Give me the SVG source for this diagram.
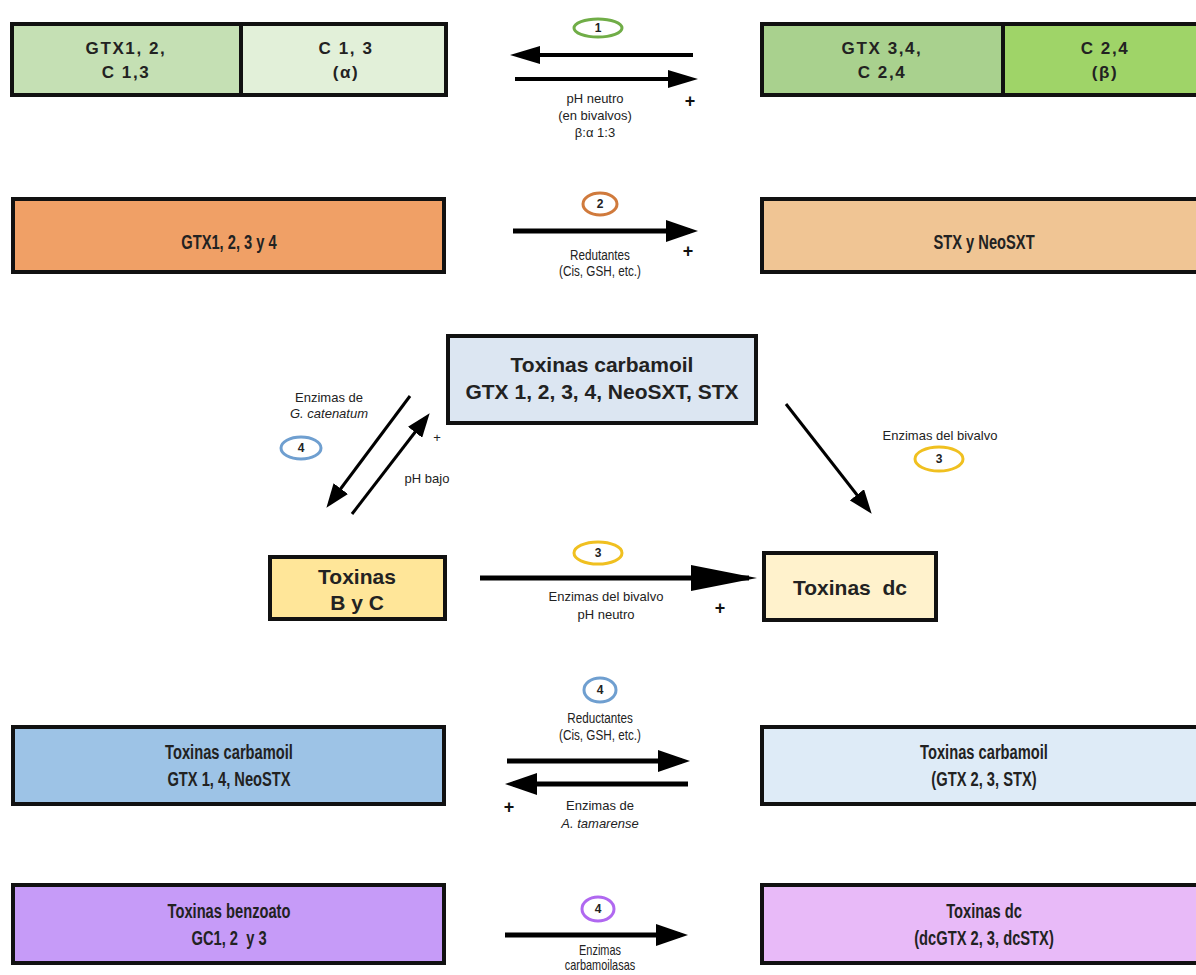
<svg xmlns="http://www.w3.org/2000/svg" width="1196" height="975" viewBox="0 0 1196 975">
<defs>
<style>
.box{stroke:#111;stroke-width:4}
.t{font-family:"Liberation Sans",Arial,sans-serif;font-weight:bold;fill:#222;text-anchor:middle;dominant-baseline:central}
.t1{font-size:17px;letter-spacing:1.6px}
.t3{font-size:21px}
.tn{font-family:"Liberation Sans",Arial,sans-serif;font-weight:bold;font-size:21px;fill:#222;text-anchor:middle;dominant-baseline:central}
.s{font-family:"Liberation Sans",Arial,sans-serif;font-size:13px;fill:#222;text-anchor:middle;dominant-baseline:central}
.sn{font-family:"Liberation Sans",Arial,sans-serif;font-size:15px;fill:#222;text-anchor:middle;dominant-baseline:central}
.sn2{font-family:"Liberation Sans",Arial,sans-serif;font-size:14px;fill:#222;text-anchor:middle;dominant-baseline:central}
.plus{font-family:"Liberation Sans",Arial,sans-serif;font-weight:bold;font-size:18px;fill:#111;text-anchor:middle;dominant-baseline:central}
.ell{fill:#fff;stroke-width:3}
.en{font-family:"Liberation Sans",Arial,sans-serif;font-weight:bold;font-size:12px;fill:#222;text-anchor:middle;dominant-baseline:central}
.arr{stroke:#000;fill:none}
</style>
<marker id="ahM" viewBox="0 0 30 18" refX="22" refY="9" markerWidth="30" markerHeight="18" markerUnits="userSpaceOnUse" orient="auto"><path d="M0,0 L30,9 L0,18 z" fill="#000"/></marker>
<marker id="ahB" viewBox="0 0 32 22" refX="24" refY="11" markerWidth="32" markerHeight="22" markerUnits="userSpaceOnUse" orient="auto"><path d="M0,0 L32,11 L0,22 z" fill="#000"/></marker>
<marker id="ahL" viewBox="0 0 66 26" refX="58" refY="13" markerWidth="66" markerHeight="26" markerUnits="userSpaceOnUse" orient="auto"><path d="M0,0 L66,13 L0,26 z" fill="#000"/></marker>
<marker id="ahS" viewBox="0 0 24 18" refX="18" refY="9" markerWidth="24" markerHeight="18" markerUnits="userSpaceOnUse" orient="auto"><path d="M0,0 L24,9 L0,18 z" fill="#000"/></marker>
</defs>
<rect width="1196" height="975" fill="#fff"/>

<g id="connectors">
<line class="arr" x1="693" y1="55" x2="518" y2="55" stroke-width="4" marker-end="url(#ahM)"/>
<line class="arr" x1="515" y1="79" x2="690" y2="79" stroke-width="4" marker-end="url(#ahM)"/>
<line class="arr" x1="513" y1="231" x2="690" y2="231" stroke-width="5" marker-end="url(#ahB)"/>
<line class="arr" x1="410" y1="396" x2="330" y2="503" stroke-width="3" marker-end="url(#ahS)"/>
<line class="arr" x1="352" y1="514" x2="426" y2="418" stroke-width="3" marker-end="url(#ahS)"/>
<line class="arr" x1="786" y1="404" x2="868" y2="509" stroke-width="3" marker-end="url(#ahS)"/>
<line class="arr" x1="480" y1="578" x2="749" y2="578" stroke-width="5" marker-end="url(#ahL)"/>
<line class="arr" x1="507" y1="761" x2="682" y2="761" stroke-width="5" marker-end="url(#ahB)"/>
<line class="arr" x1="688" y1="784" x2="513" y2="784" stroke-width="5" marker-end="url(#ahB)"/>
<line class="arr" x1="505" y1="935" x2="680" y2="935" stroke-width="5" marker-end="url(#ahB)"/>
</g>

<g id="node-gtx12-c13">
<rect class="box" x="12" y="24" width="229" height="71" fill="#c5e0b4"/>
<text class="t t1" x="126" y="48">GTX1, 2,</text>
<text class="t t1" x="126" y="72">C 1,3</text>
</g>
<g id="node-c13-alpha">
<rect class="box" x="241" y="24" width="205" height="71" fill="#e2f0d9"/>
<text class="t t1" x="346" y="48">C 1, 3</text>
<text class="t t1" x="346" y="72">(α)</text>
</g>
<g id="node-gtx34-c24">
<rect class="box" x="762" y="24" width="241" height="71" fill="#a9d18e"/>
<text class="t t1" x="882" y="48">GTX 3,4,</text>
<text class="t t1" x="882" y="72">C 2,4</text>
</g>
<g id="node-c24-beta">
<rect class="box" x="1003" y="24" width="200" height="71" fill="#9fd468"/>
<text class="t t1" x="1105" y="48">C 2,4</text>
<text class="t t1" x="1105" y="72">(β)</text>
</g>
<g id="label-1">
<ellipse class="ell" cx="598" cy="28" rx="24" ry="9" stroke="#70ad47"/>
<text class="en" x="598" y="28">1</text>
<text class="s" x="595" y="98">pH neutro</text>
<text class="s" x="595" y="115">(en bivalvos)</text>
<text class="s" x="595" y="132">β:α 1:3</text>
<text class="plus" x="690" y="101">+</text>
</g>

<g id="node-gtx1234">
<rect class="box" x="13" y="199" width="431" height="73" fill="#f0a066"/>
<text class="tn" transform="translate(229 242) scale(0.7 1)">GTX1, 2, 3 y 4</text>
</g>
<g id="node-stx-neosxt">
<rect class="box" x="762" y="199" width="440" height="73" fill="#f0c594"/>
<text class="tn" transform="translate(984 242) scale(0.7 1)">STX y NeoSXT</text>
</g>
<g id="label-2">
<ellipse class="ell" cx="600" cy="204" rx="17" ry="11" stroke="#d07a3c"/>
<text class="en" x="600" y="204">2</text>
<text class="sn" transform="translate(600 255) scale(0.78 1)">Redutantes</text>
<text class="sn" transform="translate(600 271) scale(0.78 1)">(Cis, GSH, etc.)</text>
<text class="plus" x="688" y="251">+</text>
</g>

<g id="node-carbamoil">
<rect class="box" x="448" y="336" width="308" height="87" fill="#dce6f2"/>
<text class="t t3" x="602" y="364">Toxinas carbamoil</text>
<text class="t t3" x="602" y="391">GTX 1, 2, 3, 4, NeoSXT, STX</text>
</g>
<g id="label-4a">
<text class="s" x="329" y="397">Enzimas de</text>
<text class="s" x="329" y="413" font-style="italic">G. catenatum</text>
<ellipse class="ell" cx="301" cy="448" rx="20" ry="11" stroke="#6f9fd0"/>
<text class="en" x="301" y="448">4</text>
<text class="s" x="437" y="437">+</text>
<text class="s" x="427" y="478">pH bajo</text>
</g>
<g id="label-3a">
<text class="s" x="940" y="435">Enzimas del bivalvo</text>
<ellipse class="ell" cx="939" cy="459" rx="24" ry="12" stroke="#f0c020"/>
<text class="en" x="939" y="459">3</text>
</g>

<g id="node-b-y-c">
<rect class="box" x="270" y="557" width="175" height="62" fill="#ffe699"/>
<text class="t t3" x="357" y="576">Toxinas</text>
<text class="t t3" x="357" y="602">B y C</text>
</g>
<g id="node-dc">
<rect class="box" x="764" y="553" width="172" height="67" fill="#fff2cc"/>
<text class="t t3" x="850" y="587" xml:space="preserve">Toxinas  dc</text>
</g>
<g id="label-3b">
<ellipse class="ell" cx="598" cy="553" rx="24" ry="11" stroke="#f0c020"/>
<text class="en" x="598" y="553">3</text>
<text class="s" x="606" y="596">Enzimas del bivalvo</text>
<text class="s" x="606" y="614">pH neutro</text>
<text class="plus" x="720" y="608">+</text>
</g>

<g id="node-carbamoil-gtx14">
<rect class="box" x="13" y="727" width="431" height="77" fill="#9dc3e6"/>
<text class="tn" transform="translate(229 752) scale(0.7 1)">Toxinas carbamoil</text>
<text class="tn" transform="translate(229 779) scale(0.7 1)">GTX 1, 4, NeoSTX</text>
</g>
<g id="node-carbamoil-gtx23">
<rect class="box" x="762" y="727" width="440" height="77" fill="#deebf7"/>
<text class="tn" transform="translate(984 752) scale(0.7 1)">Toxinas carbamoil</text>
<text class="tn" transform="translate(984 779) scale(0.7 1)">(GTX 2, 3, STX)</text>
</g>
<g id="label-4b">
<ellipse class="ell" cx="600" cy="690" rx="16" ry="12" stroke="#6f9fd0"/>
<text class="en" x="600" y="690">4</text>
<text class="sn" transform="translate(600 718) scale(0.78 1)">Reductantes</text>
<text class="sn" transform="translate(600 735) scale(0.78 1)">(Cis, GSH, etc.)</text>
<text class="plus" x="509" y="807">+</text>
<text class="s" x="600" y="805">Enzimas de</text>
<text class="s" x="600" y="823" font-style="italic">A. tamarense</text>
</g>

<g id="node-benzoato">
<rect class="box" x="13" y="885" width="431" height="78" fill="#c69bf8"/>
<text class="tn" transform="translate(229 911) scale(0.7 1)">Toxinas benzoato</text>
<text class="tn" transform="translate(229 938) scale(0.7 1)" xml:space="preserve">GC1, 2  y 3</text>
</g>
<g id="node-dc-gtx">
<rect class="box" x="762" y="885" width="440" height="78" fill="#e8baf8"/>
<text class="tn" transform="translate(984 911) scale(0.7 1)">Toxinas dc</text>
<text class="tn" transform="translate(984 938) scale(0.7 1)">(dcGTX 2, 3, dcSTX)</text>
</g>
<g id="label-4c">
<ellipse class="ell" cx="598" cy="909" rx="16" ry="12" stroke="#b068f0"/>
<text class="en" x="598" y="909">4</text>
<text class="sn2" transform="translate(600 951) scale(0.78 1)">Enzimas</text>
<text class="sn2" transform="translate(600 966) scale(0.78 1)">carbamoilasas</text>
</g>
</svg>
